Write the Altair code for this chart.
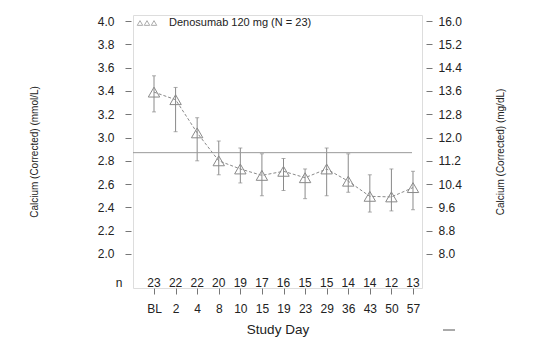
import altair as alt
import pandas as pd

days = ["BL", "2", "4", "8", "10", "15", "19", "23", "29", "36", "43", "50", "57"]
mean = [3.39, 3.325, 3.04, 2.80, 2.73, 2.675, 2.71, 2.655, 2.73, 2.625, 2.495, 2.49, 2.57]
upper = [3.53, 3.43, 3.17, 2.97, 2.91, 2.86, 2.82, 2.73, 2.91, 2.86, 2.68, 2.73, 2.71]
lower = [3.22, 3.05, 2.80, 2.68, 2.61, 2.50, 2.545, 2.475, 2.50, 2.53, 2.36, 2.37, 2.38]
n_vals = [23, 22, 22, 20, 19, 17, 16, 15, 15, 14, 14, 12, 13]
ref_line = [2.87]
left_ticks = [2.0, 2.2, 2.4, 2.6, 2.8, 3.0, 3.2, 3.4, 3.6, 3.8, 4.0]
right_ticks = [8.0, 8.8, 9.6, 10.4, 11.2, 12.0, 12.8, 13.6, 14.4, 15.2, 16.0]
legend_label = "Denosumab 120 mg (N = 23)"

FONT = "Liberation Sans"
GRAY = "#8a8a8a"
TXT = "#222222"

df = pd.DataFrame({"idx": list(range(len(days))), "day": days, "mean": mean,
                   "hi": upper, "lo": lower, "n": [str(v) for v in n_vals]})
ref_df = pd.DataFrame({"y": ref_line})
right_df = pd.DataFrame({"mg": right_ticks})

y_dom = [1.708, 4.052]
xscale = alt.Scale(domain=[-0.973, 12.417], nice=False, zero=False)
yscale = alt.Scale(domain=y_dom, nice=False, zero=False)

label_expr = "[" + ",".join("'%s'" % d for d in days) + "][datum.value]"

x_axis = alt.Axis(values=list(range(len(days))), labelExpr=label_expr, title="Study Day",
                  domain=False, grid=False, tickSize=6, tickColor="#777", labelPadding=9,
                  labelFontSize=12, labelColor=TXT, labelFont=FONT, titleFont=FONT,
                  titleFontSize=13.5, titleFontWeight="normal", titleColor=TXT, titlePadding=8)
y_axis = alt.Axis(values=left_ticks, format=".1f", title="Calcium (Corrected) (mmol/L)",
                  domain=False, grid=False, tickSize=6, tickColor="#777", offset=2,
                  labelPadding=11, labelFontSize=12, labelColor=TXT, labelFont=FONT,
                  titleFont=FONT, titleFontSize=10, titleFontWeight="normal", titleColor=TXT,
                  titlePadding=58)


def X(field):
    return alt.X(field, scale=xscale, axis=x_axis, title="Study Day")


def Y(field):
    return alt.Y(field, scale=yscale, axis=y_axis, title="Calcium (Corrected) (mmol/L)")


base = alt.Chart(df)

err = base.mark_rule(color=GRAY, strokeWidth=1).encode(
    x=X("idx:Q"), y=Y("lo:Q"), y2="hi:Q",
)
cap_hi = base.mark_tick(color=GRAY, size=4, thickness=1, orient="horizontal").encode(
    x=X("idx:Q"), y=Y("hi:Q"),
)
cap_lo = base.mark_tick(color=GRAY, size=4, thickness=1, orient="horizontal").encode(
    x=X("idx:Q"), y=Y("lo:Q"),
)
line = base.mark_line(color=GRAY, strokeDash=[3, 2], strokeWidth=1).encode(
    x=X("idx:Q"), y=Y("mean:Q"),
)
pts = base.mark_point(shape="triangle-up", size=130, filled=False, color=GRAY,
                      strokeWidth=1, opacity=1).encode(
    x=X("idx:Q"), y=Y("mean:Q"),
)
ref = alt.Chart(ref_df).mark_rule(color="#9a9a9a", strokeWidth=1).encode(
    x=alt.value(0), x2=alt.value(279), y=Y("y:Q"),
)
ntext = base.mark_text(font=FONT, fontSize=12, color=TXT, baseline="middle").encode(
    x=X("idx:Q"), y=alt.value(268), text="n:N",
)
n_label = alt.Chart(pd.DataFrame({"t": ["n"]})).mark_text(
    font=FONT, fontSize=12, color=TXT, baseline="middle").encode(
    x=alt.value(-14), y=alt.value(268), text="t:N")

leg_syms = alt.Chart(pd.DataFrame({"px": [7, 14, 21]})).mark_point(
    shape="triangle-up", size=30, filled=False, color=GRAY, strokeWidth=1).encode(
    x=alt.X("px:Q", scale=None), y=alt.value(8))
leg_text = alt.Chart(pd.DataFrame({"t": [legend_label]})).mark_text(
    font=FONT, fontSize=11, color=TXT, align="left", baseline="middle").encode(
    x=alt.value(36), y=alt.value(8), text="t:N")

stray = alt.Chart(pd.DataFrame({"a": [0]})).mark_rule(color="#555", strokeWidth=1).encode(
    x=alt.value(310), x2=alt.value(322), y=alt.value(315))

left = alt.layer(err, cap_hi, cap_lo, line, pts, ref, ntext, n_label, leg_text, stray)

right = alt.Chart(right_df).mark_point(opacity=0).encode(
    y=alt.Y("mg:Q", scale=alt.Scale(domain=[y_dom[0] * 4, y_dom[1] * 4], nice=False, zero=False),
            axis=alt.Axis(orient="right", values=right_ticks, format=".1f",
                          title="Calcium (Corrected)  (mg/dL)", domain=False, grid=False,
                          tickSize=6, tickColor="#777", offset=4, labelPadding=6,
                          labelFontSize=12, labelColor=TXT, labelFont=FONT, titleFont=FONT,
                          titleFontSize=10, titleFontWeight="normal", titleColor=TXT,
                          titleAngle=270, titlePadding=44)),
)

chart = alt.layer(left, right, leg_syms).resolve_scale(y="independent").properties(
    width=289, height=273,
    autosize=alt.AutoSizeParams(type="none"),
    padding={"left": 125, "top": 7, "right": 110, "bottom": 63},
).configure_view(stroke="#333", strokeWidth=1).configure(background="white")

chart.save("out.html", embed_options={"renderer": "svg", "actions": False})
